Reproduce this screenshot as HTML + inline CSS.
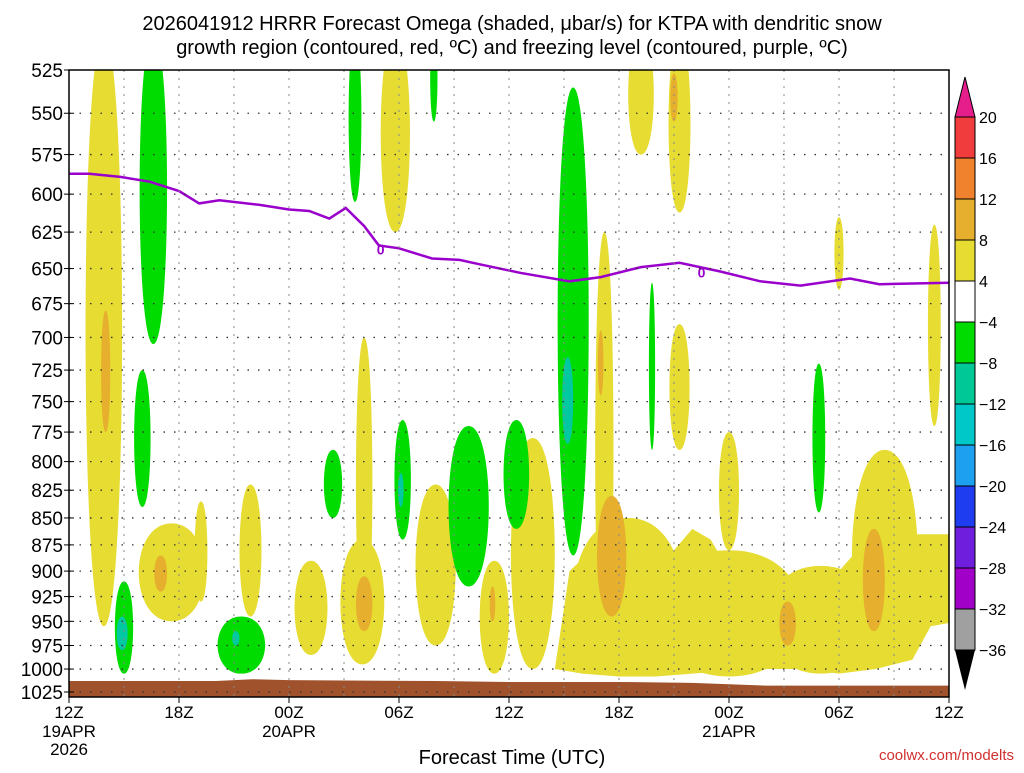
<!DOCTYPE html>
<html><head><meta charset="utf-8"><style>
body{margin:0;background:#fff;}
svg text{font-family:"Liberation Sans","DejaVu Sans",sans-serif;}
</style></head><body>
<svg id="chart" width="1024" height="768" xmlns="http://www.w3.org/2000/svg">
<text x="512" y="30" text-anchor="middle" font-size="20">2026041912 HRRR Forecast Omega (shaded, μbar/s) for KTPA with dendritic snow</text>
<text x="512" y="54" text-anchor="middle" font-size="20">growth region (contoured, red, ºC) and freezing level (contoured, purple, ºC)</text>
<defs><clipPath id="pc"><rect x="69" y="70" width="880" height="627"/></clipPath></defs>
<g id="shade" clip-path="url(#pc)"></g>
<g id="grid"></g>
<g id="axes"></g>
<g id="cbar"></g>
<text x="512" y="764" text-anchor="middle" font-size="20">Forecast Time (UTC)</text>
<text x="1014" y="760" text-anchor="end" font-size="15" fill="#d03030">coolwx.com/modelts</text>
</svg>
<script>
const pressureLevels=[525,550,575,600,625,650,675,700,725,750,775,800,825,850,875,900,925,950,975,1000,1025];
const timeTickHours=[0,6,12,18,24,30,36,42,48];
const timeTickLabels=["12Z","18Z","00Z","06Z","12Z","18Z","00Z","06Z","12Z"];
const dateLabels=[[0,"19APR"],[12,"20APR"],[36,"21APR"]];
// blobs: [centerHour, halfWidthHours, topPressure, bottomPressure, colorClass]
const yellowBlobs=[[1.9,1.0,505,955],[5.6,1.8,855,950],[7.2,0.35,835,930],[9.9,0.6,820,945],[13.2,0.9,890,985],[16,1.2,870,995],[16.1,0.45,700,960],[17.8,0.8,505,625],[20.0,1.1,820,975],[23.2,0.8,890,1005],[25.3,1.2,780,1000],[29.2,0.5,625,1000],[31.2,0.7,505,575],[33.3,0.6,505,612],[33.3,0.55,690,790],[36,0.55,775,880],[42,0.25,615,665],[47.2,0.35,620,770],[44.5,1.8,790,995],[30.5,3,850,1008],[36,4,880,1008],[41,3,895,1005]];
const yellowRegionHours=[26.5,27.3,28.5,30,31.5,32,33,34,35,36,37,38,39,40,41,42,43,44,45,48.5,48.5,47,46,44,42,40,38,36,34,32,30,28];
const yellowRegionPres=[1000,900,880,885,880,905,880,860,870,900,890,900,910,920,900,900,880,870,865,865,950,955,990,1000,1005,1000,1000,1002,1005,1008,1008,1005];
const orangeBlobs=[[2.0,0.25,680,775],[5,0.35,885,920],[16.1,0.45,905,960],[29.6,0.8,830,945],[39.2,0.45,930,975],[43.9,0.6,860,960],[33,0.2,527,555],[23.1,0.15,915,950],[29,0.15,695,745]];
const greenBlobs=[[4.6,0.75,505,705],[4.0,0.45,725,840],[3.0,0.5,910,1005],[9.4,1.3,945,1005],[14.4,0.5,790,850],[15.6,0.35,505,605],[18.2,0.45,765,870],[19.9,0.2,505,555],[21.8,1.1,770,915],[24.4,0.7,765,860],[27.5,0.85,535,885],[31.8,0.17,660,790],[40.9,0.35,720,845]];
const tealBlobs=[[27.2,0.3,715,785],[2.9,0.3,945,980],[18.1,0.15,810,840],[9.1,0.2,960,975]];
const frzHours=[0,1.1,2.8,4.4,6,7.1,8.2,10.4,12,13.1,14.2,15.1,16.1,16.9,18,19.8,21.3,22.4,24.6,27.3,29,31.2,33.3,35.5,37.7,39.9,42.6,44.2,48];
const frzPres=[587,587,589,592,598,606,604,607,610,611,616,609,621,634,636,643,644,647,653,659,656,649,646,652,659,662,657,661,660];
const groundHours=[0,8,10,12,20,24,30,34,38,48];
const groundPres=[1013,1013,1011,1012,1013,1014,1014,1015,1018,1018];
const cbarLevels=["20","16","12","8","4","−4","−8","−12","−16","−20","−24","−28","−32","−36"];
const cbarColors=["#f03c3c","#f0822d","#e6af2d","#e6dc32","#ffffff","#00dc00","#00c896","#00c8c8","#1ea0f0","#1e3cf0","#6e1edc","#a000c8","#a0a0a0"];

const NS="http://www.w3.org/2000/svg";
const X0=69,X1=949,Y0=70,Y1=692;
const lnA=Math.log(525),lnB=Math.log(1025);
function x(h){return X0+(X1-X0)*h/48;}
function y(p){return Y0+(Y1-Y0)*(Math.log(p)-lnA)/(lnB-lnA);}
function mk(tag,attrs,parent){const e=document.createElementNS(NS,tag);for(const k in attrs)e.setAttribute(k,attrs[k]);parent.appendChild(e);return e;}
const shade=document.getElementById('shade'),grid=document.getElementById('grid'),axes=document.getElementById('axes'),cbar=document.getElementById('cbar');
function blob(b,color,name){
  const [hc,hw,pt,pb]=b;const w=hw*1.33;
  const d=`M${x(hc)},${y(pt)} C${x(hc+w)},${y(pt)} ${x(hc+w)},${y(pb)} ${x(hc)},${y(pb)} C${x(hc-w)},${y(pb)} ${x(hc-w)},${y(pt)} ${x(hc)},${y(pt)}Z`;
  const e=mk('path',{d:d,fill:color},shade);
  
  
}
yellowBlobs.forEach(b=>blob(b,'#e6dc32','omega-shade-4-8'));
{let d='';yellowRegionHours.forEach((h,i)=>{d+=(i?'L':'M')+x(h)+','+y(yellowRegionPres[i]);});
 const e=mk('path',{d:d+'Z',fill:'#e6dc32'},shade);
 
 }
orangeBlobs.forEach(b=>blob(b,'#e6af2d','omega-shade-8-12'));
greenBlobs.forEach(b=>blob(b,'#00dc00','omega-shade-neg4-neg8'));
tealBlobs.forEach(b=>blob(b,'#00c8a0','omega-shade-neg8-neg12'));
{let d='M'+x(0)+','+(Y1+10);groundHours.forEach((h,i)=>{d+='L'+x(h)+','+y(groundPres[i]);});d+='L'+x(48)+','+(Y1+10)+'Z';
 const e=mk('path',{d:d,fill:'#a0522d'},shade);
 
 }
// grid
pressureLevels.forEach(p=>{if(p===525)return;const e=mk('line',{x1:X0,x2:X1,y1:y(p),y2:y(p),stroke:'#333','stroke-width':1.3,'stroke-dasharray':'1.5,9'},grid);
 
 });
for(let h=3;h<48;h+=3){const e=mk('line',{x1:x(h),x2:x(h),y1:Y0,y2:697,stroke:'#888','stroke-width':1,'stroke-dasharray':'2,6'},grid);
 
 }
// freezing line
{let d='';frzHours.forEach((h,i)=>{d+=(i?'L':'M')+x(h).toFixed(1)+','+y(frzPres[i]).toFixed(1);});
 const e=mk('path',{d:d,fill:'none',stroke:'#9a00cc','stroke-width':2.5},shade);
 
 
 [17,34.5].forEach(h=>{let i=frzHours.findIndex(v=>v>=h);const t=mk('text',{x:x(h),y:y(frzPres[i])+6,'font-size':14,'font-weight':'bold',fill:'#9a00cc','text-anchor':'middle'},shade);t.textContent='0';
 
 });}
// frame
{const e=mk('rect',{x:X0,y:Y0,width:X1-X0,height:697-Y0,fill:'none',stroke:'#000','stroke-width':1.5},axes);
 
 }
pressureLevels.forEach(p=>{const t=mk('text',{x:63,y:y(p)+7,'font-size':19,'text-anchor':'end'},axes);t.textContent=p;
 
 
 mk('line',{x1:X0-5,x2:X0+5,y1:y(p),y2:y(p),stroke:'#000'},axes);});
timeTickHours.forEach((h,i)=>{const t=mk('text',{x:x(h),y:718,'font-size':17,'text-anchor':'middle'},axes);t.textContent=timeTickLabels[i];
 
 
 mk('line',{x1:x(h),x2:x(h),y1:697,y2:703,stroke:'#000'},axes);});
dateLabels.forEach(dl=>{const t=mk('text',{x:x(dl[0]),y:737,'font-size':17,'text-anchor':'middle'},axes);t.textContent=dl[1];
 
 });
{const t=mk('text',{x:x(0),y:755,'font-size':17,'text-anchor':'middle'},axes);t.textContent='2026';
 
 }
// colorbar
const CX=955,CW=20,CT=117,CS=41;
{const e=mk('polygon',{points:`${CX},${CT} ${CX+CW},${CT} ${CX+CW/2},${CT-40}`,fill:'#e61e8c',stroke:'#000'},cbar);
 
 }
cbarColors.forEach((c,i)=>{const e=mk('rect',{x:CX,y:CT+i*CS,width:CW,height:CS,fill:c,stroke:'#000'},cbar);
 
 });
{const yb=CT+cbarColors.length*CS;const e=mk('polygon',{points:`${CX},${yb} ${CX+CW},${yb} ${CX+CW/2},${yb+40}`,fill:'#000'},cbar);
 
 }
cbarLevels.forEach((l,i)=>{const t=mk('text',{x:979,y:CT+i*CS+6,'font-size':16},cbar);t.textContent=l;
 
 });
</script>
</body></html>
